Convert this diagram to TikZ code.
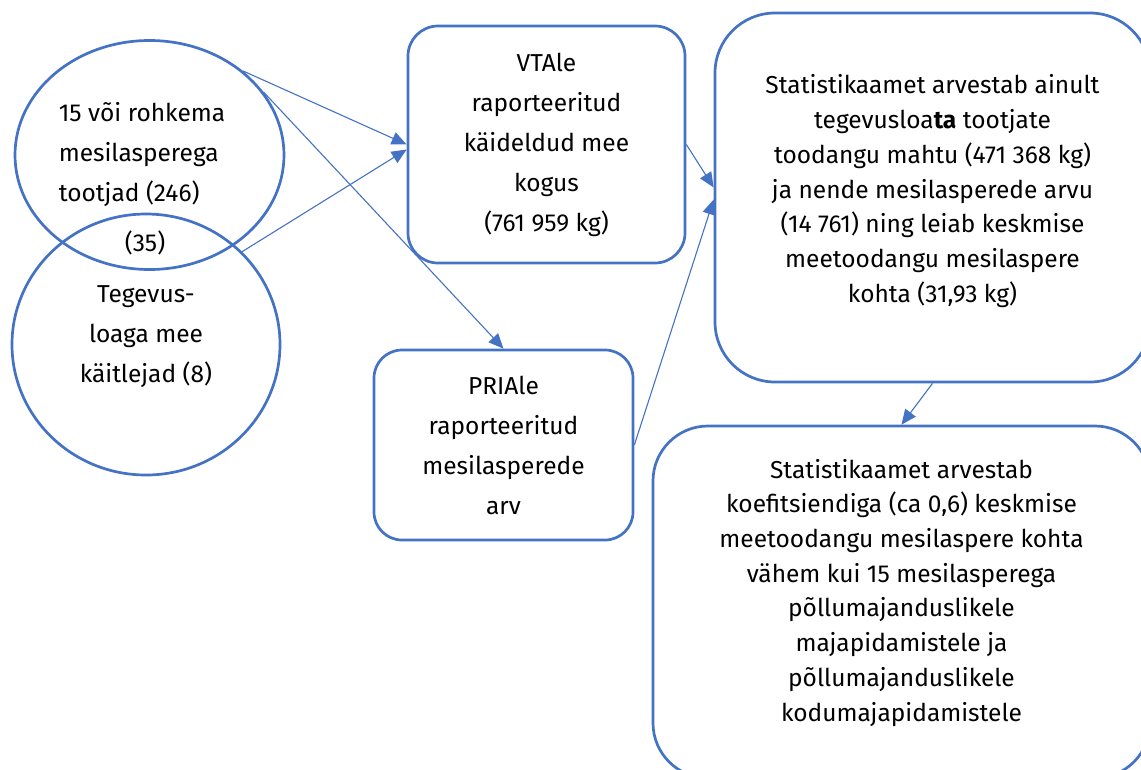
\documentclass[tikz,border=0pt]{standalone}
\usepackage{fontspec}
\setmainfont{Fira Sans}
\usetikzlibrary{shapes.geometric, arrows.meta, positioning}
\definecolor{flowblue}{RGB}{68, 114, 196}

\begin{document}
\begin{tikzpicture}[x=1pt, y=-1pt,
    ellip/.style={ellipse, draw=flowblue, line width=2.7pt, inner sep=0pt},
    txt/.style={font=\fontsize{24.5}{40}\selectfont},
    infobox/.style={rectangle, draw=flowblue, line width=2.7pt, align=center,
                    font=\fontsize{24.5}{40}\selectfont},
    widebox/.style={infobox, font=\fontsize{24.5}{34.7}\selectfont},
    link/.style={draw=flowblue, line width=1.1pt, -{Triangle[length=15pt, width=13pt]}}]

    \useasboundingbox (0,0) rectangle (1141,769);

    % Producers and handlers
    \node[ellip, minimum width=269pt, minimum height=229pt] (prod) at (149.5,155) {};
    \node[ellip, minimum width=268pt, minimum height=261pt] (handl) at (146,344.5) {};
    \node[txt, align=left] (prodtxt) at (142,155) {15 või rohkema\\mesilasperega\\tootjad (246)};
    \node[txt] (both) at (145,243) {(35)};
    \node[txt, align=center] (handltxt) at (146,337) {Tegevus-\\loaga mee\\käitlejad (8)};

    % Reported data
    \node[infobox, rounded corners=30pt, minimum width=277pt, minimum height=237pt] (vta) at (546.5,144.5)
        {VTAle\\raporteeritud\\käideldud mee\\kogus\\(761 959 kg)};
    \node[infobox, rounded corners=28pt, minimum width=259pt, minimum height=190pt] (pria) at (503.5,445)
        {PRIAle\\raporteeritud\\mesilasperede\\arv};

    % Statistics Estonia
    \node[widebox, rounded corners=60pt, minimum width=435pt, minimum height=369pt] (stat) at (932.5,197.5)
        {Statistikaamet arvestab ainult\\tegevusloa\textbf{ta} tootjate\\toodangu mahtu (471 368 kg)\\ja nende mesilasperede arvu\\(14 761) ning leiab keskmise\\meetoodangu mesilaspere\\kohta (31,93 kg)\rule[-18pt]{0pt}{18pt}};
    \node[widebox, rounded corners=55pt, minimum width=497pt, minimum height=352pt] (coef) at (901.5,602)
        {Statistikaamet arvestab\\koefitsiendiga (ca 0,6) keskmise\\meetoodangu mesilaspere kohta\\vähem kui 15 mesilasperega\\põllumajanduslikele\\majapidamistele ja\\põllumajanduslikele\\kodumajapidamistele\rule[-24pt]{0pt}{24pt}};

    % Connections
    \draw[link] (prod.42) -- (vta.west);
    \draw[link] (handl.44) -- ([yshift=-5pt]vta.west);
    \draw[link] (prod.29) -- (pria.north);
    \draw[link] (vta.east) -- ([yshift=10pt]stat.west);
    \draw[link] (pria.east) -- ([yshift=-2pt]stat.west);
    \draw[link] (stat.south) -- (coef.north);
\end{tikzpicture}
\end{document}
